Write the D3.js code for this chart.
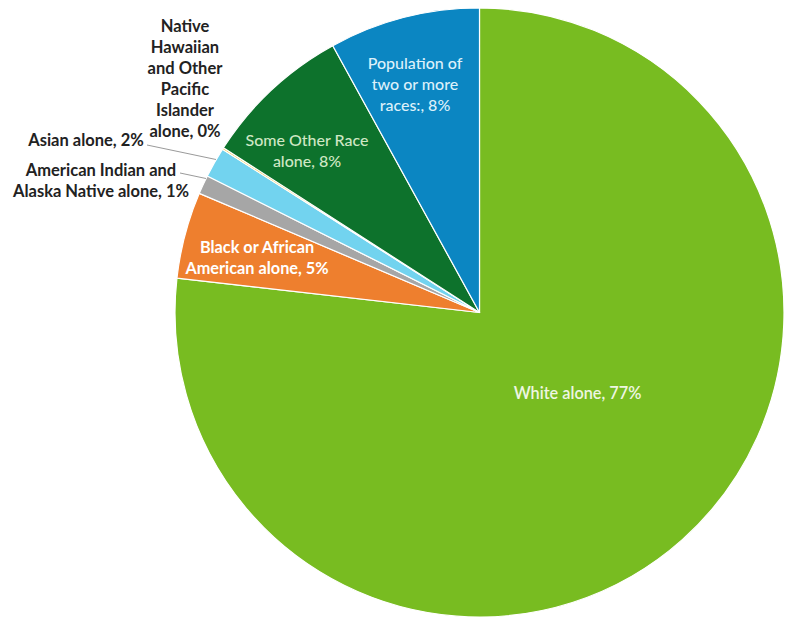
<!DOCTYPE html>
<html>
<head>
<meta charset="utf-8">
<script src="https://cdn.jsdelivr.net/npm/d3@7"></script>
<style>
  html, body { margin: 0; padding: 0; background: #ffffff; }
  svg { display: block; }
  text { font-family: Lato, "Open Sans", sans-serif; }
</style>
</head>
<body>
<svg id="chart" width="786" height="618"></svg>
<script>
// ---- data ----
const categories = [
  "White alone",
  "Black or African American alone",
  "American Indian and Alaska Native alone",
  "Asian alone",
  "Native Hawaiian and Other Pacific Islander alone",
  "Some Other Race alone",
  "Population of two or more races:"
];
const values = [76.8, 4.6, 1.0, 1.6, 0.1, 7.9, 8.0];
const percentLabels = ["77%", "5%", "1%", "2%", "0%", "8%", "8%"];
const colors = ["#78bc21", "#ee7f2e", "#a6a6a6", "#72d3ef", "#f2c12e", "#0d722c", "#0b86c2"];

// ---- layout (not data) ----
const cx = 479.5, cy = 312.5, R = 304.5;
const labelLines = [
  ["White alone, 77%"],
  ["Black or African", "American alone, 5%"],
  ["American Indian and", "Alaska Native alone, 1%"],
  ["Asian alone, 2%"],
  ["Native", "Hawaiian", "and Other", "Pacific", "Islander", "alone, 0%"],
  ["Some Other Race", "alone, 8%"],
  ["Population of", "two or more", "races:, 8%"]
];
const labelStyle = [
  {x: 577.5, y: 393, fill: "#eef6e2", weight: 600, size: 16.3},
  {x: 257, y: 257.5, fill: "#ffffff", weight: 700, size: 16.3},
  {x: 101, y: 181, fill: "#222222", weight: 700, size: 16.5, lead: [[180, 173], [206, 178.5]]},
  {x: 86, y: 140, fill: "#222222", weight: 700, size: 16.5, lead: [[147, 145], [216, 159.5]]},
  {x: 185, y: 79, fill: "#222222", weight: 700, size: 16.5},
  {x: 307, y: 151, fill: "#cfe7c4", weight: 500, size: 16},
  {x: 415, y: 84, fill: "#dcf0fa", weight: 500, size: 16}
];
const lineHeight = 21;

const svg = d3.select("#chart");
const g = svg.append("g").attr("transform", `translate(${cx},${cy})`);

const pie = d3.pie().sort(null).value(d => d)(values);
const arc = d3.arc().innerRadius(0).outerRadius(R);

g.selectAll("path.slice")
  .data(pie)
  .join("path")
  .attr("class", "slice")
  .attr("d", arc)
  .attr("fill", (d, i) => colors[i])
  .attr("stroke", "#ffffff")
  .attr("stroke-width", 1.2)
  .attr("stroke-linejoin", "round");

// leader lines
labelStyle.forEach((s, i) => {
  if (s.lead) {
    svg.append("line")
      .attr("x1", s.lead[0][0]).attr("y1", s.lead[0][1])
      .attr("x2", s.lead[1][0]).attr("y2", s.lead[1][1])
      .attr("stroke", "#9a9a9a").attr("stroke-width", 1);
  }
});

// labels
labelLines.forEach((lines, i) => {
  const s = labelStyle[i];
  const n = lines.length;
  const t = svg.append("text")
    .attr("text-anchor", "middle")
    .attr("font-size", s.size)
    .attr("font-weight", s.weight)
    .attr("fill", s.fill);
  lines.forEach((ln, k) => {
    t.append("tspan")
      .attr("x", s.x)
      .attr("y", s.y + (k - (n - 1) / 2) * lineHeight)
      .attr("dy", "0.35em")
      .text(ln);
  });
});
</script>
</body>
</html>
